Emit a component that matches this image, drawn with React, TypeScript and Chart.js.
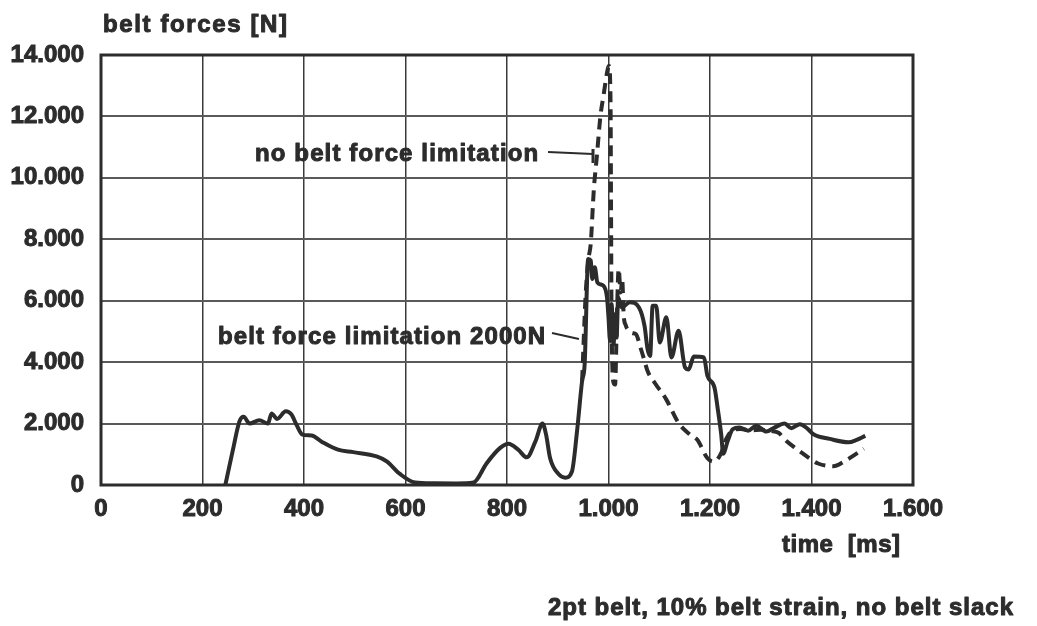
import React, { useEffect, useRef } from "react";
import { Chart, registerables } from "chart.js";

Chart.register(...registerables);

// ---- data (time in ms, belt force in N) ----
const solidTimeMs = [245, 260, 273, 281, 293, 312, 329, 336, 347, 364, 375, 385, 397, 415, 434, 467, 497, 543, 563, 589, 619, 655, 700, 734, 760, 786, 803, 822, 839, 856, 870, 877, 885, 902, 915, 928, 938, 948, 953, 960, 965, 968, 973, 978, 990, 997, 1000, 1003, 1006, 1010, 1013, 1016, 1019, 1026, 1042, 1060, 1071, 1077, 1082, 1087, 1094, 1101, 1114, 1124, 1138, 1151, 1158, 1168, 1188, 1195, 1209, 1215, 1222, 1226, 1235, 1245, 1258, 1275, 1291, 1311, 1327, 1347, 1360, 1377, 1393, 1403, 1436, 1473, 1489, 1506];
const solidForceN = [0, 1150, 2080, 2220, 2000, 2110, 2000, 2330, 2150, 2400, 2300, 1970, 1640, 1610, 1420, 1150, 1070, 930, 770, 360, 80, 55, 50, 80, 710, 1200, 1340, 1150, 900, 1420, 2000, 1640, 870, 350, 240, 440, 1750, 3390, 3930, 7360, 7310, 6710, 7090, 6600, 6490, 6110, 5460, 4690, 5890, 4580, 5560, 4800, 6110, 5780, 5950, 5780, 5180, 4420, 4200, 5840, 5840, 4640, 5460, 4150, 5020, 3820, 3760, 4180, 4150, 3550, 3160, 2510, 1660, 1020, 1440, 1820, 1870, 1770, 1930, 1740, 1870, 2000, 1850, 1980, 1820, 1660, 1500, 1390, 1470, 1600];

const dashedTimeMs = [948, 955, 960, 965, 971, 977, 984, 990, 999, 1001, 1004, 1005, 1006, 1010, 1013, 1017, 1020, 1024, 1027, 1030, 1034, 1040, 1047, 1054, 1064, 1070, 1077, 1091, 1114, 1138, 1160, 1175, 1195, 1208, 1222, 1232, 1246, 1260, 1280, 1300, 1320, 1335, 1350, 1370, 1397, 1413, 1443, 1463, 1482, 1503];
const dashedForceN = [3390, 6200, 7300, 7860, 9600, 10690, 12000, 12660, 13580, 13640, 12500, 9000, 5500, 3330, 3270, 5800, 7040, 6270, 6700, 5510, 5200, 5020, 4950, 4910, 4420, 4100, 3710, 3330, 2780, 2020, 1650, 1470, 870, 760, 1040, 1500, 1800, 1820, 1780, 1800, 1760, 1700, 1440, 1180, 860, 700, 610, 750, 950, 1180];

const xTickValues = [0, 200, 400, 600, 800, 1000, 1200, 1400, 1600];
const yTickValues = [0, 2000, 4000, 6000, 8000, 10000, 12000, 14000];

const yAxisTitle = "belt forces [N]";
const xAxisTitle = "time  [ms]";
const subtitle = "2pt belt, 10% belt strain, no belt slack";
const labelNoLimit = "no belt force limitation";
const labelLimit = "belt force limitation 2000N";

const INK = "#2c2c2c";
const FONT_FAMILY = "'Liberation Sans', Arial, sans-serif";

function fmt(v: number): string {
  if (v >= 1000) {
    return `${Math.floor(v / 1000)}.${String(v % 1000).padStart(3, "0")}`;
  }
  return String(v);
}

function zip(xs: number[], ys: number[]) {
  return xs.map((x, i) => ({ x, y: ys[i] }));
}

function fitText(ctx: CanvasRenderingContext2D, text: string, x: number, y: number, target: number) {
  (ctx as any).letterSpacing = "0px";
  const w = ctx.measureText(text).width;
  const n = Math.max(1, text.length - 1);
  const ls = (target - w) / n;
  (ctx as any).letterSpacing = `${ls.toFixed(2)}px`;
  ctx.fillText(text, x, y);
  ctx.strokeText(text, x, y);
  (ctx as any).letterSpacing = "0px";
}

const decorPlugin = {
  id: "decor",
  beforeDatasetsDraw(chart: any) {
    const { ctx, chartArea } = chart;
    ctx.save();
    ctx.strokeStyle = INK;
    ctx.lineWidth = 3;
    ctx.strokeRect(chartArea.left, chartArea.top, chartArea.right - chartArea.left, chartArea.bottom - chartArea.top);
    ctx.restore();
  },
  afterDraw(chart: any) {
    const { ctx } = chart;
    ctx.save();
    ctx.fillStyle = INK;
    ctx.strokeStyle = INK;
    ctx.lineWidth = 1;
    ctx.lineJoin = "round";
    ctx.textBaseline = "alphabetic";
    ctx.textAlign = "left";
    ctx.font = `bold 24px ${FONT_FAMILY}`;
    fitText(ctx, yAxisTitle, 103, 32, 184);
    fitText(ctx, labelNoLimit, 255, 161, 283);
    fitText(ctx, labelLimit, 218, 344, 327);
    fitText(ctx, xAxisTitle, 782, 552, 118);
    fitText(ctx, subtitle, 548, 615, 465);

    // leader lines
    ctx.lineWidth = 2;
    ctx.beginPath();
    ctx.moveTo(548, 152);
    ctx.lineTo(593, 154);
    ctx.stroke();
    ctx.lineWidth = 3;
    ctx.beginPath();
    ctx.moveTo(593, 149);
    ctx.lineTo(593, 163);
    ctx.stroke();
    ctx.lineWidth = 2;
    ctx.beginPath();
    ctx.moveTo(552, 333);
    ctx.lineTo(579, 339);
    ctx.stroke();
    ctx.restore();
  },
};

export default function App() {
  const canvasRef = useRef<HTMLCanvasElement | null>(null);

  useEffect(() => {
    if (!canvasRef.current) return;
    const chart = new Chart(canvasRef.current, {
      type: "scatter",
      data: {
        datasets: [
          {
            label: "belt force limitation 2000N",
            data: zip(solidTimeMs, solidForceN),
            showLine: true,
            borderColor: INK,
            borderWidth: 4,
            pointRadius: 0,
            cubicInterpolationMode: "monotone",
            tension: 0.4,
            fill: false,
          },
          {
            label: "no belt force limitation",
            data: zip(dashedTimeMs, dashedForceN),
            showLine: true,
            borderColor: INK,
            borderWidth: 4,
            borderDash: [11, 7],
            pointRadius: 0,
            cubicInterpolationMode: "monotone",
            tension: 0.4,
            fill: false,
          },
        ],
      },
      options: {
        animation: false,
        responsive: false,
        maintainAspectRatio: false,
        layout: { padding: { left: 0, right: 124, top: 55, bottom: 0 } },
        plugins: {
          legend: { display: false },
          tooltip: { enabled: false },
          title: { display: false },
        },
        scales: {
          x: {
            type: "linear",
            min: 0,
            max: 1600,
            afterFit: (scale: any) => {
              scale.height = 141;
            },
            afterBuildTicks: (scale: any) => {
              scale.ticks = xTickValues.map((v) => ({ value: v }));
            },
            ticks: {
              color: INK,
              font: { family: FONT_FAMILY, size: 24, weight: "bold" },
              textStrokeColor: INK,
              textStrokeWidth: 1,
              padding: 10,
              maxRotation: 0,
              autoSkip: false,
              callback: (v: any) => fmt(Number(v)),
            },
            grid: {
              color: "#3a3a3a",
              lineWidth: 1.5,
              drawTicks: false,
            },
            border: { display: false },
          },
          y: {
            type: "linear",
            min: 0,
            max: 14000,
            afterFit: (scale: any) => {
              scale.width = 101;
            },
            afterBuildTicks: (scale: any) => {
              scale.ticks = yTickValues.map((v) => ({ value: v }));
            },
            ticks: {
              color: INK,
              font: { family: FONT_FAMILY, size: 24, weight: "bold" },
              textStrokeColor: INK,
              textStrokeWidth: 1,
              padding: 17,
              autoSkip: false,
              callback: (v: any) => fmt(Number(v)),
            },
            grid: {
              color: "#5a5a5a",
              lineWidth: 2,
              drawTicks: false,
            },
            border: { display: false },
          },
        },
      },
      plugins: [decorPlugin],
    } as any);
    return () => chart.destroy();
  }, []);

  return (
    <div style={{ position: "fixed", left: 0, top: 0, width: 1037, height: 626, background: "#fff" }}>
      <canvas ref={canvasRef} width={1037} height={626} style={{ width: 1037, height: 626, display: "block" }} />
    </div>
  );
}
